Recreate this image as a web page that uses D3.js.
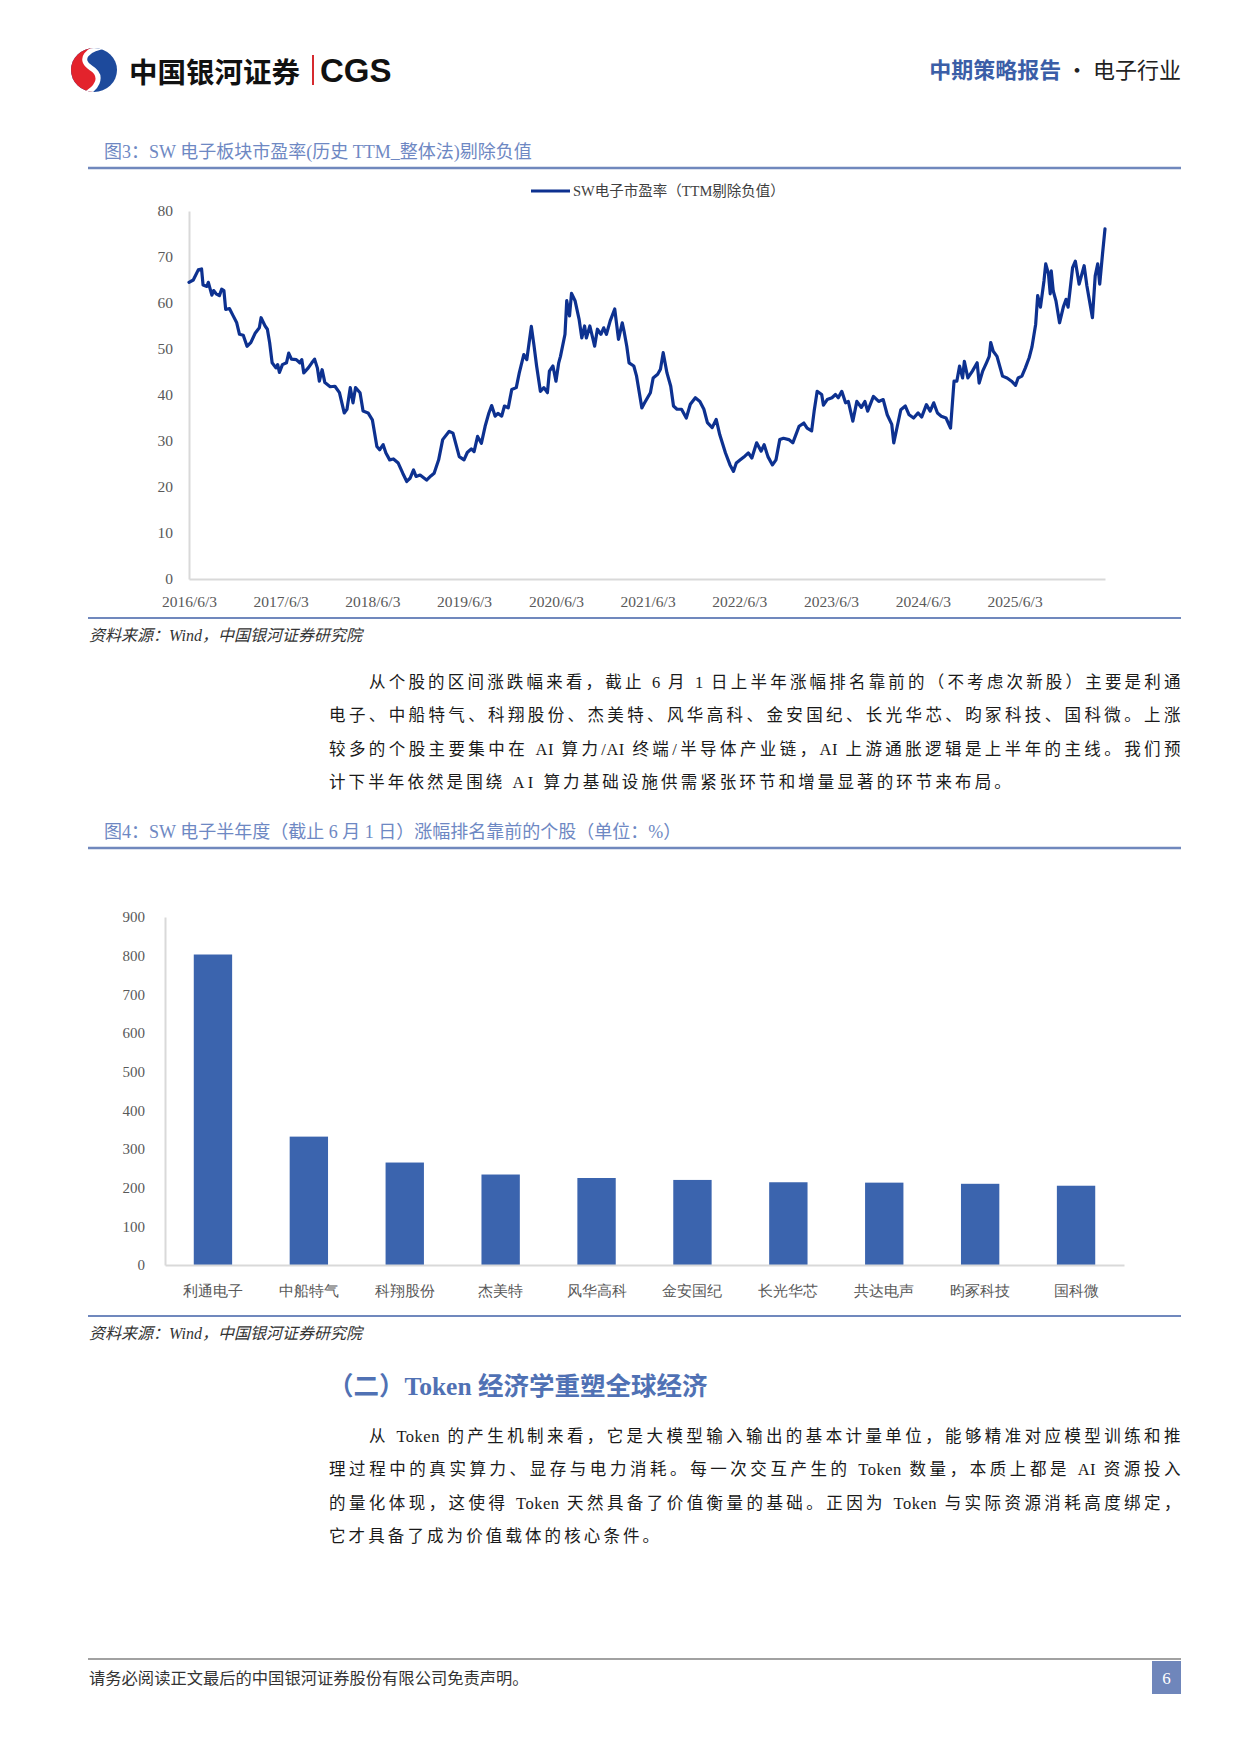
<!DOCTYPE html>
<html lang="zh">
<head>
<meta charset="UTF-8">
<title>电子行业 中期策略报告 p6</title>
<script src="https://d3js.org/d3.v7.min.js"></script>
<style>
  body { margin: 0; background: #fff; }
  #page { position: relative; width: 1240px; height: 1753px; overflow: hidden;
          font-family: "Liberation Serif", "Noto Sans CJK SC", serif; }
  #canvas { position: absolute; left: 0; top: 0; }
  .line { position: absolute; font-size: 16.5px; letter-spacing: 3.1px; line-height: 33.4px;
          height: 33.4px; color: #1a1a1a; white-space: nowrap; }
  .just { letter-spacing: 0.5px; text-align: justify; text-align-last: justify; }
</style>
</head>
<body>
<div id="page">
  <svg id="canvas" width="1240" height="1753"></svg>
</div>
<script>
// ---------- 图3：SW电子市盈率（TTM剔除负值）
const peDates = [
  "2016-06-03","2016-06-20","2016-07-10","2016-07-23","2016-07-29","2016-08-13","2016-08-19","2016-09-02","2016-09-09","2016-09-19",
  "2016-10-02","2016-10-11","2016-10-20","2016-10-27","2016-11-11","2016-11-26","2016-12-10","2016-12-21","2017-01-05","2017-01-20",
  "2017-02-04","2017-02-22","2017-03-10","2017-03-17","2017-04-02","2017-04-11","2017-04-20","2017-04-30","2017-05-15","2017-05-22",
  "2017-05-29","2017-06-10","2017-06-26","2017-07-05","2017-07-16","2017-08-04","2017-08-18","2017-08-26","2017-09-03","2017-09-21",
  "2017-10-05","2017-10-16","2017-10-27","2017-11-04","2017-11-15","2017-11-26","2017-12-17","2018-01-05","2018-01-23","2018-02-11",
  "2018-02-22","2018-03-07","2018-03-18","2018-03-28","2018-04-15","2018-04-27","2018-05-17","2018-06-03","2018-06-21","2018-07-02",
  "2018-07-16","2018-07-27","2018-08-11","2018-08-26","2018-09-14","2018-10-02","2018-10-18","2018-10-31","2018-11-14","2018-11-24",
  "2018-12-10","2019-01-05","2019-01-22","2019-02-04","2019-02-22","2019-03-10","2019-04-05","2019-04-20","2019-05-15","2019-06-03",
  "2019-06-16","2019-07-02","2019-07-13","2019-07-27",
  "2019-08-11","2019-08-26","2019-09-10","2019-09-21","2019-10-05","2019-10-16","2019-10-31","2019-11-11","2019-11-26","2019-12-10",
  "2019-12-28","2020-01-09","2020-01-27","2020-02-08","2020-02-26","2020-03-07","2020-03-18","2020-04-02","2020-04-16","2020-04-30",
  "2020-05-08","2020-05-22","2020-06-03","2020-06-14","2020-06-21","2020-07-09","2020-07-16","2020-07-27","2020-08-04","2020-08-18",
  "2020-09-03","2020-09-14","2020-09-25","2020-10-02","2020-10-16","2020-11-04","2020-11-15","2020-11-29","2020-12-10","2020-12-21",
  "2021-01-05","2021-01-23","2021-02-07","2021-02-22","2021-03-01","2021-03-12","2021-03-21","2021-04-09","2021-04-20","2021-05-11",
  "2021-05-22","2021-06-14","2021-06-25","2021-07-13","2021-07-24","2021-08-04","2021-08-19","2021-09-03","2021-09-14","2021-09-28",
  "2021-10-16","2021-11-04","2021-11-20","2021-12-10","2021-12-28","2022-01-13","2022-01-27","2022-02-15","2022-03-03","2022-03-17",
  "2022-04-09","2022-04-27","2022-05-11","2022-05-22","2022-06-07","2022-06-25","2022-07-09","2022-07-23","2022-08-11","2022-08-29",
  "2022-09-10","2022-09-25","2022-10-13","2022-10-27","2022-11-11","2022-11-26","2022-12-17",
  "2023-01-02","2023-01-27","2023-02-15","2023-02-28","2023-03-18","2023-03-28","2023-04-09","2023-04-27","2023-05-04","2023-05-19",
  "2023-06-07","2023-06-21","2023-07-02","2023-07-16","2023-07-31","2023-08-11","2023-08-29","2023-09-14","2023-10-02","2023-10-16",
  "2023-10-27","2023-11-19","2023-12-10","2023-12-28","2024-01-13","2024-01-31","2024-02-08","2024-02-22","2024-03-07","2024-03-25",
  "2024-04-09","2024-04-27","2024-05-15","2024-05-29","2024-06-17","2024-07-02","2024-07-16","2024-07-31","2024-08-15","2024-09-03",
  "2024-09-21","2024-10-05","2024-10-16","2024-10-27","2024-11-08","2024-11-15","2024-11-29","2024-12-17","2025-01-05","2025-01-13",
  "2025-01-27","2025-02-11","2025-02-22","2025-02-28","2025-03-10","2025-03-25","2025-04-16","2025-05-04","2025-05-22","2025-06-07",
  "2025-06-17","2025-07-02","2025-07-16","2025-07-31","2025-08-11","2025-08-26","2025-09-03","2025-09-14","2025-09-28","2025-10-05",
  "2025-10-16","2025-10-23","2025-10-27","2025-11-04","2025-11-15","2025-11-29","2025-12-14","2025-12-25","2026-01-02","2026-01-09",
  "2026-01-20","2026-01-31","2026-02-15","2026-03-07","2026-03-18","2026-04-09","2026-04-20","2026-04-30","2026-05-08","2026-05-19",
  "2026-05-29"
];
const peValues = [
  64.5,65,67.2,67.4,63.9,63.6,64.5,61.7,62.7,62,
  61.6,63,62.7,58.6,58.8,57.2,55.7,53.2,53,50.6,
  51.4,53.5,54.6,56.8,55,54.3,51.4,47,45.9,46.6,
  44.9,46.6,47,49.1,47.8,47.7,47,47.7,44.8,45.9,
  47,47.8,45.9,43,45.5,42.7,41.8,41.9,40.5,36.1,
  36.9,41.6,38.3,41.6,40.5,36.5,36.1,34.6,28.8,28.1,
  29.2,27.4,25.9,26.1,25.2,23,21.2,21.9,23.7,22.3,
  22.6,21.5,22.4,23,25.9,30.3,32.1,31.7,26.6,25.9,
  27.5,28.3,27.7,31,
  29.5,33.2,36.1,37.7,35.4,36,35.4,37.6,37.2,41.2,
  41.6,44.8,48.8,47.7,54.9,51,46.3,40.8,41.6,40.5,
  45.2,46.3,43,47,48.4,53.2,60.5,57.2,62.1,60.5,
  56.5,52.4,55,52.4,55,50.6,54.3,53.2,54.6,53.2,
  56.1,58.7,52.1,55.7,53.9,50.6,47,46.3,44.1,37.2,
  38.3,40.5,43.7,44.5,45.6,49.2,44.8,41.9,37.6,36.9,
  36.9,35,38,39.4,38.6,36.9,34,32.9,34.7,31.4,
  27.4,24.8,23.4,25.2,25.9,26.7,27.4,26.3,29.6,27.8,
  29.2,26.6,24.8,25.9,30.3,30.6,30.3,
  29.6,33.2,33.9,32.8,32.2,36.5,40.8,40.1,37.8,39,
  39.4,40.1,39.4,40.8,38.3,38.6,34.3,38.6,37.3,38.6,
  36.5,39.7,38.6,39,35.7,33.6,29.6,33.2,36.8,37.6,
  35.7,35,36.1,35.2,37.9,36.5,38.3,36.1,35.4,35,
  32.8,43,43,46.3,43.7,47.3,43.7,45.2,47,42.6,
  45.2,47,48.4,51.4,49.5,48.4,44.1,43.7,43,42.1,
  43.7,44.1,45.9,48.1,50.4,55.4,61.6,59.1,64.8,68.5,
  66.3,62,67,62.6,60.4,55.7,59.1,60.8,59.1,62.4,
  67.7,69.1,64.1,68.1,63.7,56.8,65.9,68.5,64.1,70.6,
  76.1
];
const peTicks = ["2016-06-03","2017-06-03","2018-06-03","2019-06-03","2020-06-03",
                 "2021-06-03","2022-06-03","2023-06-03","2024-06-03","2025-06-03"];
const peSeriesName = "SW电子市盈率（TTM剔除负值）";

// ---------- 图4：涨幅排名靠前的个股（%）
const stocks = ["利通电子","中船特气","科翔股份","杰美特","风华高科","金安国纪","长光华芯","共达电声","昀冢科技","国科微"];
const gains = [803, 332, 265, 234, 225, 220, 214, 213, 210, 205];

const svg = d3.select("#canvas");
const page = d3.select("#page");
const parse = d3.timeParse("%Y-%m-%d");
const ruleBlue = "#7088bd";
const axisGrey = "#d9d9d9";
const tickText = "#595959";

// ---------- header
const logo = svg.append("g");
logo.append("clipPath").attr("id", "logoClip")
  .append("ellipse").attr("cx", 94).attr("cy", 70).attr("rx", 23).attr("ry", 22);
const lg = logo.append("g").attr("clip-path", "url(#logoClip)");
lg.append("rect").attr("x", 68).attr("y", 45).attr("width", 52).attr("height", 52).attr("fill", "#1d4a9c");
lg.append("path").attr("fill", "#e3232c")
  .attr("d", "M66 44 L104 44 C84 48 80 60 92 68 C104 76 100 90 84 96 L66 96 Z");
lg.append("path").attr("fill", "none").attr("stroke", "#fff").attr("stroke-width", 5)
  .attr("d", "M108 46 C86 48 78 60 91 68 C104 76 98 90 80 96");

svg.append("text").attr("x", 129).attr("y", 70).attr("dominant-baseline", "central")
  .attr("font-family", "Noto Sans CJK SC").attr("font-weight", 700).attr("font-size", 28.5)
  .attr("fill", "#111").text("中国银河证券");
svg.append("line").attr("x1", 313).attr("x2", 313).attr("y1", 55).attr("y2", 85)
  .attr("stroke", "#d62a2f").attr("stroke-width", 2);
svg.append("text").attr("x", 320).attr("y", 70).attr("dominant-baseline", "central")
  .attr("font-family", "Liberation Sans").attr("font-weight", 700).attr("font-size", 33)
  .attr("fill", "#111").text("CGS");

const hr = svg.append("text").attr("x", 1181).attr("y", 68).attr("text-anchor", "end")
  .attr("dominant-baseline", "central").attr("font-family", "Noto Sans CJK SC").attr("font-size", 22);
hr.append("tspan").attr("fill", "#3b5ea7").attr("font-weight", 700).text("中期策略报告");
hr.append("tspan").attr("fill", "#222").text(" · 电子行业");

// ---------- helpers for figure frames
function figTitle(text, yText, yRule) {
  svg.append("text").attr("x", 104).attr("y", yText).attr("dominant-baseline", "central")
    .attr("font-size", 18).attr("fill", "#6e88c3").text(text);
  svg.append("line").attr("x1", 88).attr("x2", 1181).attr("y1", yRule).attr("y2", yRule)
    .attr("stroke", ruleBlue).attr("stroke-width", 2.5);
}
function figSource(yRule, yText) {
  svg.append("line").attr("x1", 88).attr("x2", 1181).attr("y1", yRule).attr("y2", yRule)
    .attr("stroke", ruleBlue).attr("stroke-width", 2);
  svg.append("text").attr("x", 89).attr("y", yText).attr("dominant-baseline", "central")
    .attr("font-size", 16).attr("font-style", "italic").attr("fill", "#333")
    .text("资料来源：Wind，中国银河证券研究院");
}

// ---------- 图3 line chart
figTitle("图3：SW 电子板块市盈率(历史 TTM_整体法)剔除负值", 152, 168);

const pe = peDates.map((d, i) => ({date: parse(d), value: peValues[i]}));
const x1 = d3.scaleTime().domain([parse("2016-06-03"), parse("2026-05-29")]).range([189, 1105]);
const y1 = d3.scaleLinear().domain([0, 80]).range([579, 211]);

const gY1 = svg.append("g").attr("transform", "translate(189,0)")
  .call(d3.axisLeft(y1).ticks(8).tickSize(0).tickPadding(16));
const gX1 = svg.append("g").attr("transform", "translate(0,579)")
  .call(d3.axisBottom(x1).tickValues(peTicks.map(parse))
    .tickFormat(d3.timeFormat("%Y/%-m/%-d")).tickSize(0).tickPadding(17));
[gY1, gX1].forEach(g => {
  g.select(".domain").attr("stroke", axisGrey).attr("stroke-width", 2);
  g.selectAll("text").attr("font-family", "Liberation Serif").attr("font-size", 15.5).attr("fill", tickText);
});

svg.append("path").datum(pe)
  .attr("fill", "none").attr("stroke", "#0d3190").attr("stroke-width", 3.2)
  .attr("stroke-linejoin", "round").attr("stroke-linecap", "round")
  .attr("d", d3.line().x(d => x1(d.date)).y(d => y1(d.value)));

svg.append("line").attr("x1", 531).attr("x2", 570).attr("y1", 191).attr("y2", 191)
  .attr("stroke", "#0d3190").attr("stroke-width", 3);
svg.append("text").attr("x", 573).attr("y", 191).attr("dominant-baseline", "central")
  .attr("font-size", 14.5).attr("fill", "#404040").text(peSeriesName);

figSource(618, 635);

// ---------- paragraph 1
const para1 = [
  "从个股的区间涨跌幅来看，截止 6 月 1 日上半年涨幅排名靠前的（不考虑次新股）主要是利通",
  "电子、中船特气、科翔股份、杰美特、风华高科、金安国纪、长光华芯、昀冢科技、国科微。上涨",
  "较多的个股主要集中在 AI 算力/AI 终端/半导体产业链，AI 上游通胀逻辑是上半年的主线。我们预",
  "计下半年依然是围绕 AI 算力基础设施供需紧张环节和增量显著的环节来布局。"
];
function paragraph(lines, top) {
  lines.forEach((t, i) => {
    const first = i === 0;
    const last = i === lines.length - 1;
    page.append("div").attr("class", "line" + (last ? "" : " just"))
      .style("left", (first ? 369 : 329) + "px")
      .style("width", (first ? 812 : 852) + "px")
      .style("top", (top + i * 33.3) + "px")
      .text(t);
  });
}
paragraph(para1, 666);

// ---------- 图4 bar chart
figTitle("图4：SW 电子半年度（截止 6 月 1 日）涨幅排名靠前的个股（单位：%）", 832, 848);

const x2 = d3.scaleBand().domain(stocks).range([165, 1124]).paddingInner(0.6).paddingOuter(0.3);
const y2 = d3.scaleLinear().domain([0, 900]).range([1265, 917]);

svg.append("g").selectAll("rect").data(stocks).join("rect")
  .attr("x", d => x2(d)).attr("width", x2.bandwidth())
  .attr("y", (d, i) => y2(gains[i])).attr("height", (d, i) => y2(0) - y2(gains[i]))
  .attr("fill", "#3b64ae");

const gY2 = svg.append("g").attr("transform", "translate(165,0)")
  .call(d3.axisLeft(y2).ticks(9).tickSize(0).tickPadding(20));
const gX2 = svg.append("g").attr("transform", "translate(0,1265)")
  .call(d3.axisBottom(x2).tickSize(0).tickPadding(20));
[gY2, gX2].forEach(g => {
  g.select(".domain").attr("stroke", axisGrey).attr("stroke-width", 2);
  g.selectAll("text").attr("font-family", "Liberation Serif").attr("font-size", 15).attr("fill", tickText);
});

figSource(1316, 1333);

// ---------- section heading + paragraph 2
svg.append("text").attr("x", 328).attr("y", 1386).attr("dominant-baseline", "central")
  .attr("font-size", 25.5).attr("font-weight", 700).attr("fill", "#5071b4")
  .text("（二）Token 经济学重塑全球经济");

const para2 = [
  "从 Token 的产生机制来看，它是大模型输入输出的基本计量单位，能够精准对应模型训练和推",
  "理过程中的真实算力、显存与电力消耗。每一次交互产生的 Token 数量，本质上都是 AI 资源投入",
  "的量化体现，这使得 Token 天然具备了价值衡量的基础。正因为 Token 与实际资源消耗高度绑定，",
  "它才具备了成为价值载体的核心条件。"
];
paragraph(para2, 1420);

// ---------- footer
svg.append("line").attr("x1", 88).attr("x2", 1181).attr("y1", 1659).attr("y2", 1659)
  .attr("stroke", "#444").attr("stroke-width", 1.2);
svg.append("text").attr("x", 89).attr("y", 1678).attr("dominant-baseline", "central")
  .attr("font-size", 16.3).attr("fill", "#333").text("请务必阅读正文最后的中国银河证券股份有限公司免责声明。");
svg.append("rect").attr("x", 1152).attr("y", 1661).attr("width", 29).attr("height", 33).attr("fill", "#6f86bb");
svg.append("text").attr("x", 1166.5).attr("y", 1678).attr("text-anchor", "middle").attr("dominant-baseline", "central")
  .attr("font-size", 17).attr("fill", "#fff").text("6");
</script>
</body>
</html>
